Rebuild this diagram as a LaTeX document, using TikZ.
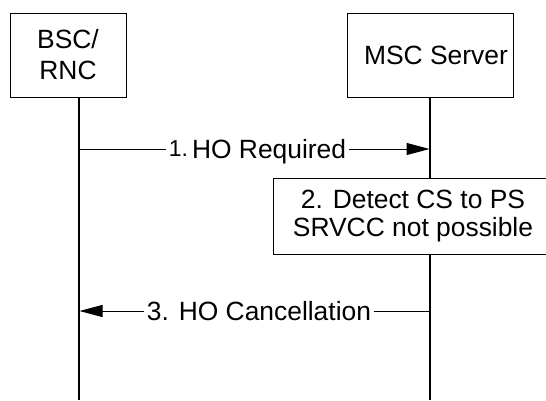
\documentclass[tikz,border=0pt]{standalone}
\usepackage{fontspec}
\setmainfont{Liberation Sans}
\usetikzlibrary{arrows.meta}
\begin{document}
\begin{tikzpicture}[x=1pt,y=-1pt,
  ent/.style={draw, line width=1pt, fill=white, inner sep=0pt, align=center},
  life/.style={line width=1.2pt},
  msg/.style={line width=1pt, -{Triangle[length=23pt,width=12pt]}},
  lbl/.style={font=\fontsize{26.4}{31}\selectfont, fill=white, inner xsep=3pt, inner ysep=1pt, anchor=base},
]
\path[use as bounding box] (0,0) rectangle (546,400);
\clip (0,0) rectangle (546,400);
% entities
\node[ent, minimum width=116pt, minimum height=84pt, font=\fontsize{26.4}{31}\selectfont] (bsc) at (68,55) {BSC/\\RNC};
\node[ent, minimum width=166pt, minimum height=84pt, font=\fontsize{26.4}{31}\selectfont] (msc) at (430,55) {\hspace*{12pt}MSC Server};
% lifelines
\coordinate (bscBot) at (79,400);
\coordinate (mscBot) at (430,400);
\draw[life] (bsc.south -| bscBot) -- (bscBot);
\draw[life] (msc.south) -- (mscBot);
% message 1
\coordinate (m1a) at (79,149);
\coordinate (m1b) at (429.5,149);
\draw[msg] (m1a) -- (m1b);
\node[lbl] (l1) at (257.5,158.5) {\raisebox{2.5pt}{\fontsize{23}{23}\selectfont 1.}\hspace{4pt}HO Required};
% action box
\node[ent, minimum width=280pt, minimum height=76pt, font=\fontsize{26.4}{28}\selectfont] (det) at (413,216) {2. Detect CS to PS\\SRVCC not possible};
% message 3
\coordinate (m3a) at (430,311);
\coordinate (m3b) at (79.5,311);
\draw[msg] (m3a) -- (m3b);
\node[lbl] (l3) at (259,320.5) {3. HO Cancellation};
\end{tikzpicture}
\end{document}
